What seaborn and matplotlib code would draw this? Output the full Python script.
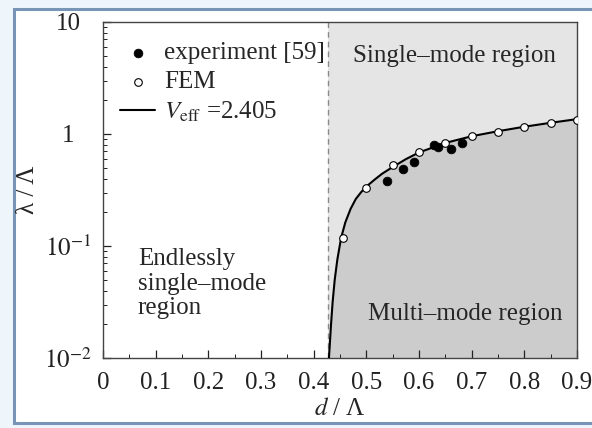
import numpy as np
import pandas as pd
import matplotlib
matplotlib.use("Agg")
import matplotlib.pyplot as plt
from matplotlib.patches import Rectangle
from matplotlib.ticker import FixedLocator, FixedFormatter, NullFormatter, MultipleLocator
import seaborn as sns

# Measured single-mode cut-off (experiment)
exp_d = [0.539, 0.570, 0.590, 0.628, 0.636, 0.661, 0.682]
exp_lam = [0.38, 0.49, 0.56, 0.80, 0.77, 0.73, 0.83]

# Finite-element results
fem_d = [0.455, 0.50, 0.55, 0.60, 0.65, 0.70, 0.75, 0.80, 0.85, 0.90]
fem_lam = [0.118, 0.33, 0.53, 0.69, 0.83, 0.96, 1.04, 1.15, 1.25, 1.33]

# V_eff = 2.405 cut-off curve
curve_d = [0.429, 0.431, 0.433, 0.436, 0.440, 0.445, 0.452, 0.460, 0.470, 0.480,
           0.490, 0.500, 0.515, 0.530, 0.550, 0.575, 0.600, 0.650, 0.700, 0.750,
           0.800, 0.850, 0.900]
curve_lam = [0.0100, 0.0141, 0.0200, 0.0316, 0.0501, 0.0759, 0.1175, 0.162, 0.214,
             0.263, 0.302, 0.339, 0.389, 0.442, 0.507, 0.596, 0.684, 0.832, 0.955,
             1.059, 1.161, 1.259, 1.358]

# Endlessly single-mode limit
esm_limit = 0.428

x_ticks = [0, 0.1, 0.2, 0.3, 0.4, 0.5, 0.6, 0.7, 0.8, 0.9]
x_tick_labels = ["0", "0.1", "0.2", "0.3", "0.4", "0.5", "0.6", "0.7", "0.8", "0.9"]
y_ticks = [0.01, 0.1, 1, 10]
y_tick_labels = [r"$10^{-2}$", r"$10^{-1}$", "1", "10"]

sns.set_theme(style="ticks")
plt.rcParams["font.family"] = ["Liberation Serif", "DejaVu Serif"]
plt.rcParams["mathtext.fontset"] = "stix"

FS = 18
W, H = 592, 428
fig = plt.figure(figsize=(W / 100, H / 100), dpi=100)
fig.patch.set_facecolor("#eef6fb")

# Window-style frame around the figure
frame = Rectangle((14 / W, 5 / H), 1.2, (423 - 9) / H,
                  transform=fig.transFigure, facecolor="white",
                  edgecolor="#7894b6", linewidth=2.2, zorder=-10)
fig.patches.append(frame)

ax = fig.add_axes([103 / W, (H - 358) / H, (577 - 103) / W, (358 - 22) / H])
ax.set_zorder(5)
ax.set_facecolor("white")
ax.set_yscale("log")
ax.set_xlim(0, 0.9)
ax.set_ylim(0.01, 10)

# Regions
ax.axvspan(esm_limit, 0.9, color="#e5e5e5", zorder=0, lw=0)
ax.fill_between(curve_d, 0.01, curve_lam, color="#cccccc", zorder=0.5, lw=0)
ax.axvline(esm_limit, color="#8a8a8a", lw=1.0, ls=(0, (4, 3)), zorder=1)

curve_df = pd.DataFrame({"d": curve_d, "lam": curve_lam})
exp_df = pd.DataFrame({"d": exp_d, "lam": exp_lam})
fem_df = pd.DataFrame({"d": fem_d, "lam": fem_lam})

sns.scatterplot(data=exp_df, x="d", y="lam", ax=ax, color="black", s=40,
                edgecolor="black", linewidth=0.5, zorder=4, label="experiment [59]")
sns.scatterplot(data=fem_df, x="d", y="lam", ax=ax, facecolor="white", s=30,
                edgecolor="black", linewidth=0.8, zorder=5, label="FEM")
sns.lineplot(data=curve_df, x="d", y="lam", ax=ax, color="black", lw=1.5,
             sort=False, zorder=3, label=r"$V_{\rm eff}$ =2.405")

handles, labels = ax.get_legend_handles_labels()
order = [labels.index("experiment [59]"), labels.index("FEM"),
         labels.index(r"$V_{\rm eff}$ =2.405")]
ax.legend([handles[i] for i in order], [labels[i] for i in order],
          loc="upper left", bbox_to_anchor=((120 - 103) / 474, (358 - 42) / 336),
          frameon=False, fontsize=FS, borderpad=0, borderaxespad=0,
          handlelength=1.4, handletextpad=0.35, labelspacing=0.25)

ax.text(0.475, 5.0, "Single–mode region", fontsize=FS, ha="left", va="center")
ax.text(0.066, 0.046, "Endlessly\nsingle–mode\nregion", fontsize=FS, ha="left",
        va="center", linespacing=1.15)
ax.text(0.503, 0.0248, "Multi–mode region", fontsize=FS, ha="left", va="center")

ax.xaxis.set_major_locator(FixedLocator(x_ticks))
ax.xaxis.set_major_formatter(FixedFormatter(x_tick_labels))
ax.xaxis.set_minor_locator(MultipleLocator(0.05))
ax.yaxis.set_major_locator(FixedLocator(y_ticks))
ax.yaxis.set_major_formatter(FixedFormatter(y_tick_labels))
ax.yaxis.set_minor_formatter(NullFormatter())

ax.tick_params(which="both", direction="in", top=False, right=False,
               labelsize=FS, colors="#222222")
ax.tick_params(which="major", length=6, width=0.9)
ax.tick_params(which="minor", length=3, width=0.7)
ax.tick_params(axis="x", which="major", pad=10)
ax.tick_params(axis="y", which="major", pad=25)
for lab in ax.get_yticklabels():
    lab.set_horizontalalignment("center")

for s in ax.spines.values():
    s.set_color("#444444")
    s.set_linewidth(1.0)

ax.set_xlabel(r"$d$ / Λ", fontsize=FS, labelpad=3)
ax.set_ylabel("λ / Λ", fontsize=FS, labelpad=4)

fig.savefig("out.png", dpi=100)
